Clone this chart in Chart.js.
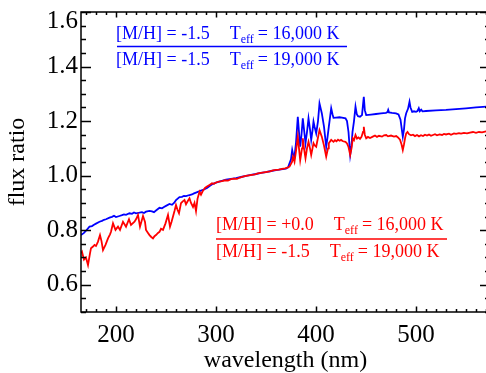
<!DOCTYPE html>
<html><head><meta charset="utf-8">
<script src="https://cdn.jsdelivr.net/npm/chart.js@4.4.1/dist/chart.umd.min.js"></script>
<style>html,body{margin:0;padding:0;overflow:hidden;background:#fff;width:486px;height:373px}canvas{display:block}</style>
</head><body>
<canvas id="c" width="495" height="373"></canvas>
<script>
const xTickLabels = [200, 300, 400, 500];
const yTickLabels = [0.6, 0.8, 1.0, 1.2, 1.4, 1.6];

const blueWavelength = [165,168,170,173.5,176,178,180,183.5,186,188,190,193.5,196,198,200,203.5,206,208,210,213.5,216,218,220,223.5,226,228,230,233.5,236,238,240,243.5,246,248,250,253.5,256,258,260,263.5,266,268,270,273.5,276,278,280,283,285,288.5,291,294,297,301.5,305,310,315,320,325,330,335,340,345,350,355,360,365,370,372,373.5,375,376.2,377,378.5,380,381.8,383,384.2,385.5,386.8,388,389.5,391,392.5,394,395.2,396.5,397.5,398.5,400.2,402,403.5,405.8,408,410.2,411.5,412.8,415.2,416.5,417.5,420,423.5,426,429.5,431,432.5,434.2,435.5,436.5,438,439.5,440.8,442,444,446,447.8,448.8,450.2,455,460,465,470,471.5,472.2,473,476,480,482.5,484.5,485.8,486.8,488,489,490.2,492,493.5,494.5,496.2,498,500,501.5,502.8,503.8,505.2,506.5,510,520,530,540,550,560,574];
const blueRatio = [0.782,0.790,0.798,0.813,0.815,0.820,0.824,0.831,0.834,0.838,0.840,0.846,0.849,0.853,0.848,0.852,0.855,0.858,0.856,0.862,0.860,0.865,0.862,0.864,0.866,0.863,0.868,0.871,0.869,0.866,0.872,0.882,0.880,0.885,0.889,0.896,0.893,0.900,0.910,0.921,0.922,0.926,0.925,0.929,0.931,0.935,0.938,0.942,0.945,0.950,0.955,0.963,0.970,0.976,0.980,0.985,0.988,0.991,0.995,0.999,1.003,1.006,1.010,1.013,1.017,1.020,1.023,1.026,1.030,1.045,1.060,1.094,1.080,1.070,1.120,1.216,1.160,1.106,1.150,1.210,1.170,1.119,1.160,1.210,1.170,1.131,1.165,1.198,1.180,1.155,1.200,1.265,1.229,1.180,1.106,1.140,1.179,1.247,1.225,1.212,1.213,1.214,1.213,1.210,1.200,1.160,1.076,1.110,1.160,1.200,1.253,1.225,1.218,1.216,1.222,1.289,1.240,1.222,1.224,1.226,1.228,1.230,1.233,1.241,1.232,1.230,1.228,1.224,1.205,1.170,1.143,1.170,1.210,1.229,1.245,1.271,1.250,1.234,1.236,1.234,1.237,1.247,1.236,1.242,1.236,1.237,1.239,1.241,1.244,1.247,1.250,1.254];

const redWavelength = [165,166,168,170,172,174,175,177,178.5,180,182,184,185.5,187,189.5,192,194,195,197,199.5,202,204,207,210,213,215,218.5,220,222,224,227,229,230,232,233.5,235,237,238.5,240,242,243.5,245,247,249.5,252,254,255.5,257,258.5,260,261.5,263,265,266.5,268.5,270,271.5,273.5,275,277,278.5,280,281.5,283.5,285,287,289,291,293.5,296,298,300,303,306,309,312,315,318,321,324,327,330,333,336,339,342,345,348,351,354,357,360,363,366,369,372,373.5,376,377,378.5,380,381.8,383,384.2,386,386.8,388,389.5,391,392.5,394,395.2,396.5,397.5,398.5,400.2,402,403.5,405.8,408,410.2,412,412.8,415.2,417.5,419,420.5,422,423.5,425,427,429.5,431,432.5,434.2,435.5,436.8,438,439.5,441,442.5,444,445.5,447,447.8,448.8,450.2,452,454,456.8,459,461,463,466,468,470.2,472,475,478,480.2,482,484,485.5,486.8,488,489.2,490.2,491.5,493,495,497,499,501,503,505,507,509,511,513,515,517,519,521,523.5,526,528,530,533,535,538,540,543,545,548,551,554,557,560,563,566,570,574];
const redRatio = [0.715,0.721,0.692,0.700,0.672,0.715,0.734,0.740,0.746,0.742,0.758,0.782,0.760,0.727,0.746,0.770,0.785,0.794,0.825,0.801,0.813,0.801,0.831,0.813,0.840,0.819,0.831,0.840,0.856,0.813,0.852,0.830,0.801,0.790,0.782,0.776,0.770,0.778,0.782,0.790,0.794,0.805,0.801,0.825,0.856,0.813,0.830,0.850,0.870,0.892,0.875,0.862,0.899,0.905,0.911,0.895,0.905,0.917,0.900,0.885,0.900,0.870,0.915,0.941,0.930,0.945,0.955,0.960,0.966,0.972,0.970,0.975,0.978,0.980,0.983,0.982,0.987,0.989,0.988,0.993,0.996,0.999,1.001,1.003,1.005,1.008,1.010,1.012,1.014,1.016,1.019,1.021,1.022,1.025,1.027,1.030,1.033,1.050,1.070,1.051,1.090,1.143,1.100,1.057,1.100,1.137,1.100,1.064,1.100,1.124,1.100,1.076,1.100,1.119,1.112,1.106,1.140,1.167,1.143,1.110,1.070,1.100,1.119,1.131,1.124,1.130,1.126,1.132,1.128,1.131,1.126,1.124,1.118,1.105,1.076,1.100,1.137,1.130,1.149,1.136,1.140,1.135,1.142,1.160,1.179,1.150,1.137,1.142,1.138,1.143,1.147,1.142,1.146,1.143,1.148,1.149,1.144,1.147,1.143,1.145,1.140,1.132,1.115,1.094,1.115,1.140,1.155,1.160,1.152,1.148,1.150,1.145,1.149,1.144,1.148,1.145,1.150,1.147,1.151,1.146,1.149,1.152,1.148,1.151,1.149,1.153,1.151,1.154,1.150,1.155,1.153,1.156,1.154,1.157,1.155,1.158,1.160,1.157,1.160,1.159,1.162,1.163];

const blueNumerator = ['[M/H] = -1.5', '= 16,000 K'];
const blueDenominator = ['[M/H] = -1.5', '= 19,000 K'];
const redNumerator = ['[M/H] = +0.0', '= 16,000 K'];
const redDenominator = ['[M/H] = -1.5', '= 19,000 K'];

const SERIF = '"Liberation Serif", "Times New Roman", serif';

function drawRatioLine(ctx, x, yb, parts) {
  ctx.font = '18px ' + SERIF;
  ctx.fillText(parts[0], x, yb);
  let cx = x + ctx.measureText(parts[0]).width + 20;
  ctx.fillText('T', cx, yb);
  cx += ctx.measureText('T').width;
  ctx.font = '12px ' + SERIF;
  ctx.fillText('eff', cx, yb + 4);
  cx += ctx.measureText('eff').width + 4;
  ctx.font = '18px ' + SERIF;
  ctx.fillText(parts[1], cx, yb);
}
function drawFraction(ctx, color, x, yTop, yBar, yBot, barL, barR, num, den) {
  ctx.fillStyle = color; ctx.strokeStyle = color;
  ctx.textAlign = 'left'; ctx.textBaseline = 'alphabetic';
  drawRatioLine(ctx, x, yTop, num);
  drawRatioLine(ctx, x, yBot, den);
  ctx.lineWidth = 1.6;
  ctx.beginPath(); ctx.moveTo(barL, yBar); ctx.lineTo(barR, yBar); ctx.stroke();
}

const framePlugin = {
  id: 'frame',
  afterDatasetsDraw(chart) {
    const {ctx, chartArea: a, scales: {x, y}} = chart;
    ctx.save();
    ctx.strokeStyle = '#000';
    ctx.lineWidth = 1.5;
    ctx.strokeRect(a.left, a.top, a.right - a.left, a.bottom - a.top);
    ctx.beginPath();
    for (let v = Math.ceil(x.min / 10) * 10; v <= x.max; v += 10) {
      const px = Math.round(x.getPixelForValue(v)) + 0.5;
      const L = v % 100 === 0 ? 5.5 : 3;
      ctx.moveTo(px, a.bottom); ctx.lineTo(px, a.bottom - L);
      ctx.moveTo(px, a.top); ctx.lineTo(px, a.top + L);
    }
    for (let i = Math.ceil(y.min / 0.05 - 1e-6); i * 0.05 <= y.max + 1e-9; i++) {
      const py = Math.round(y.getPixelForValue(i * 0.05)) + 0.5;
      const L = i % 4 === 0 ? 10 : 5;
      ctx.moveTo(a.left, py); ctx.lineTo(a.left + L, py);
      ctx.moveTo(a.right, py); ctx.lineTo(a.right - L, py);
    }
    ctx.stroke();
    drawFraction(ctx, '#0000ff', 116, 38.5, 46.5, 65, 117, 347, blueNumerator, blueDenominator);
    drawFraction(ctx, '#ff0000', 216, 230, 239, 257, 216, 447, redNumerator, redDenominator);
    ctx.restore();
  }
};

const pts = (xs, ys) => xs.map((w, i) => ({x: w, y: ys[i]}));
const noEdgePadding = s => { s.paddingTop = 0; s.paddingBottom = 0; s.paddingLeft = 0; s.paddingRight = 0; };

new Chart(document.getElementById('c'), {
  type: 'line',
  data: {
    datasets: [
      {label: '[M/H]=+0.0 Teff=16,000 K / [M/H]=-1.5 Teff=19,000 K', data: pts(redWavelength, redRatio),
       borderColor: '#ff0000', borderWidth: 1.8, pointRadius: 0, tension: 0, fill: false},
      {label: '[M/H]=-1.5 Teff=16,000 K / [M/H]=-1.5 Teff=19,000 K', data: pts(blueWavelength, blueRatio),
       borderColor: '#0000ff', borderWidth: 1.8, pointRadius: 0, tension: 0, fill: false}
    ]
  },
  options: {
    responsive: false, animation: false, events: [],
    layout: {padding: {top: 12, right: 5, left: 0, bottom: 0}},
    plugins: {legend: {display: false}, tooltip: {enabled: false}},
    scales: {
      x: {
        type: 'linear', min: 165, max: 574,
        afterBuildTicks: s => { s.ticks = xTickLabels.map(v => ({value: v})); },
        afterFit: s => { s.height = 61; noEdgePadding(s); },
        grid: {display: false, drawTicks: false}, border: {display: false},
        ticks: {font: {family: SERIF, size: 25, lineHeight: 1}, color: '#000', padding: 11, maxRotation: 0, autoSkip: false},
        title: {display: true, text: 'wavelength (nm)', color: '#000', font: {family: SERIF, size: 24, lineHeight: 1}, padding: {top: 0, bottom: 0}}
      },
      y: {
        type: 'linear', min: 0.5, max: 1.6,
        afterBuildTicks: s => { s.ticks = yTickLabels.map(v => ({value: v})); },
        afterFit: s => { s.width = 81; noEdgePadding(s); },
        grid: {display: false, drawTicks: false}, border: {display: false},
        ticks: {
          color: '#000', padding: 3, autoSkip: false,
          font: c => ({family: SERIF, size: 25, lineHeight: (c.tick && c.tick.value === 1.6) ? 0.75 : 1}),
          callback: v => (v === 1.6 ? ['', v.toFixed(1)] : v.toFixed(1))
        },
        title: {display: true, text: 'flux ratio', color: '#000', font: {family: SERIF, size: 24, lineHeight: 1}, padding: {top: 6, bottom: 0}}
      }
    }
  },
  plugins: [framePlugin]
});
</script>
</body></html>
